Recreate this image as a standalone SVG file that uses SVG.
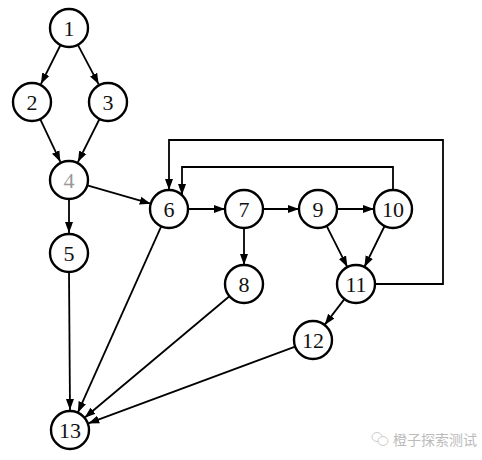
<svg xmlns="http://www.w3.org/2000/svg" width="482" height="460" viewBox="0 0 482 460">
<style>
.node circle{fill:#fff;stroke:#000;stroke-width:2.4}
.node text{font-family:"Liberation Serif","Times New Roman",serif;font-size:22px;text-anchor:middle;fill:#111}
.edges line,.edges polyline{stroke:#000;stroke-width:1.8;fill:none;marker-end:url(#arr)}
.wm{font-family:"Noto Sans CJK SC",sans-serif;font-size:14px;fill:#bbb}
</style>
<defs>
<marker id="arr" markerUnits="userSpaceOnUse" markerWidth="11" markerHeight="11" viewBox="0 0 11 11" refX="11" refY="5.5" orient="auto">
<path d="M0,1.5 L11,5.5 L0,9.5 Z" fill="#000"/>
</marker>
</defs>
<rect width="482" height="460" fill="#fff"/>
<g class="edges">
<line x1="60.5" y1="45" x2="40.9" y2="84.1"/>
<line x1="77.9" y1="44.8" x2="98.7" y2="84.3"/>
<line x1="40.2" y1="119.2" x2="60.4" y2="161.9"/>
<line x1="99.5" y1="119" x2="77.9" y2="162.1"/>
<line x1="69" y1="199" x2="69" y2="233"/>
<line x1="87.3" y1="185.3" x2="150.7" y2="203.7"/>
<line x1="69" y1="272" x2="70" y2="410"/>
<line x1="188" y1="209" x2="225" y2="209"/>
<line x1="263" y1="209" x2="299" y2="209"/>
<line x1="337" y1="209" x2="374" y2="209"/>
<line x1="244" y1="228" x2="244" y2="265"/>
<line x1="161.2" y1="226.3" x2="77.8" y2="412.7"/>
<line x1="229.4" y1="296.2" x2="84.6" y2="417.8"/>
<line x1="295.2" y1="346.6" x2="88.2" y2="423.4"/>
<line x1="326.6" y1="225.9" x2="347.4" y2="267.1"/>
<line x1="384.6" y1="226" x2="364.4" y2="267"/>
<line x1="344.4" y1="299.1" x2="324.6" y2="324.9"/>
<polyline points="375,284 443,284 443,140 169,140 169,190"/>
<polyline points="393,190 393,167 182,167 182,195"/>
</g>
<g id="n1" class="node"><circle cx="69" cy="28" r="19"/><text x="69" y="35.5">1</text></g>
<g id="n2" class="node"><circle cx="32" cy="102" r="19"/><text x="32" y="109.5">2</text></g>
<g id="n3" class="node"><circle cx="108" cy="102" r="19"/><text x="108" y="109.5">3</text></g>
<g id="n4" class="node"><circle cx="69" cy="180" r="19"/><text x="69" y="187.5" style="fill:#999">4</text></g>
<g id="n5" class="node"><circle cx="69" cy="253" r="19"/><text x="69" y="260.5">5</text></g>
<g id="n6" class="node"><circle cx="169" cy="209" r="19"/><text x="169" y="216.5">6</text></g>
<g id="n7" class="node"><circle cx="244" cy="209" r="19"/><text x="244" y="216.5">7</text></g>
<g id="n8" class="node"><circle cx="244" cy="284" r="19"/><text x="244" y="291.5">8</text></g>
<g id="n9" class="node"><circle cx="318" cy="209" r="19"/><text x="318" y="216.5">9</text></g>
<g id="n10" class="node"><circle cx="393" cy="209" r="19"/><text x="393" y="216.5">10</text></g>
<g id="n11" class="node"><circle cx="356" cy="284" r="19"/><text x="356" y="291.5">11</text></g>
<g id="n12" class="node"><circle cx="313" cy="340" r="19"/><text x="313" y="347.5">12</text></g>
<g id="n13" class="node"><circle cx="70" cy="430" r="19"/><text x="70" y="437.5">13</text></g>
<g id="watermark">
<ellipse cx="377" cy="437" rx="5" ry="4.5" fill="none" stroke="#ccc" stroke-width="1"/>
<ellipse cx="383" cy="441" rx="5" ry="4.5" fill="#fff" stroke="#ccc" stroke-width="1"/>
<text class="wm" x="393" y="445">橙子探索测试</text>
</g>
</svg>
